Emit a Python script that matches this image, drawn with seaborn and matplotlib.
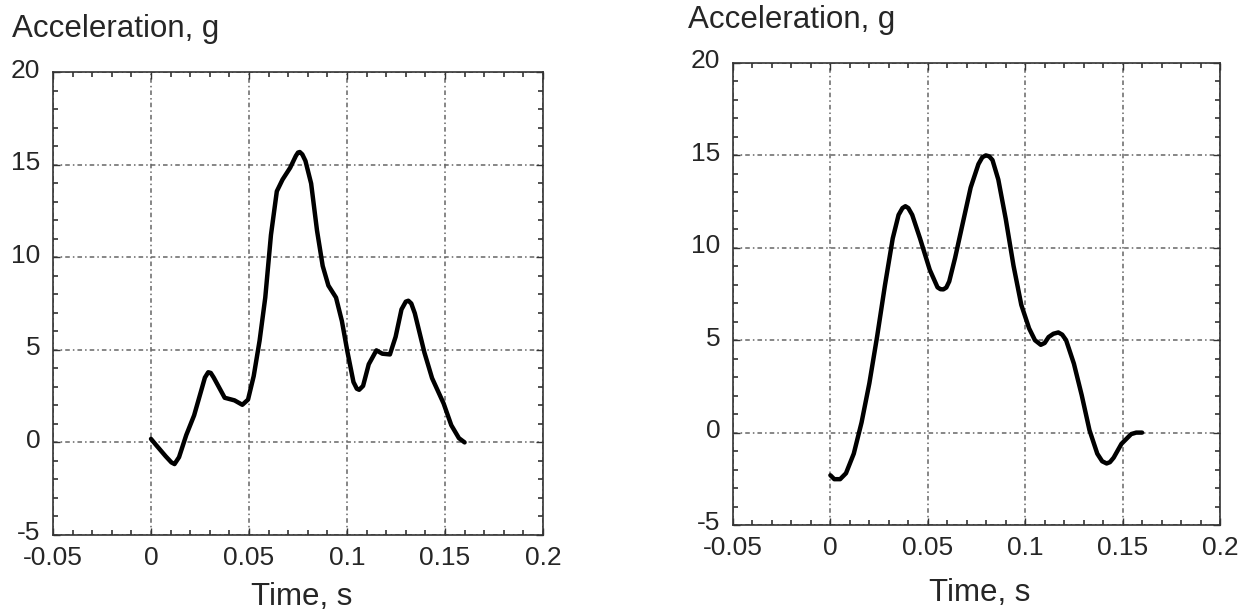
import matplotlib
matplotlib.use("Agg")
import matplotlib.pyplot as plt
import matplotlib.transforms as mtransforms
import seaborn as sns
import pandas as pd
from matplotlib.ticker import MultipleLocator

# Left chart data
t_left = [0.0, 0.0025, 0.0075, 0.0104, 0.012, 0.0143, 0.018, 0.022, 0.026, 0.0275,
          0.0292, 0.0305, 0.032, 0.0376,
          0.0426, 0.0466, 0.0495, 0.0524, 0.0554, 0.0583, 0.0612, 0.0642, 0.0671,
          0.0710, 0.0739, 0.0750, 0.0759, 0.0772, 0.0788, 0.0817, 0.0847, 0.0876,
          0.0905, 0.0944,
          0.0974, 0.1003, 0.1033, 0.1050, 0.1062, 0.1082, 0.1111, 0.1150, 0.118, 0.1219,
          0.1248, 0.1278, 0.1300, 0.1313, 0.1328, 0.1346, 0.1395, 0.1434, 0.1493,
          0.1532, 0.1571, 0.160]
a_left = [0.19, -0.13, -0.75, -1.08, -1.17, -0.8, 0.4, 1.46, 2.94, 3.5,
          3.79, 3.75, 3.5, 2.41,
          2.27, 2.03, 2.31, 3.58, 5.49, 7.82, 11.2, 13.56, 14.19,
          14.83, 15.47, 15.65, 15.68, 15.55, 15.2, 13.98, 11.44, 9.53,
          8.47, 7.82,
          6.55, 4.85, 3.26, 2.9, 2.84, 3.05, 4.22, 4.97, 4.79, 4.75,
          5.70, 7.18, 7.6, 7.65, 7.5, 6.97, 4.85, 3.47, 2.10,
          0.93, 0.23, 0.0]

# Right chart data
t_right = [0.0, 0.002, 0.005, 0.008, 0.012, 0.016, 0.020, 0.024, 0.028, 0.032,
           0.035, 0.037, 0.0385, 0.040, 0.042, 0.046, 0.051, 0.055, 0.0565, 0.058,
           0.0595, 0.061, 0.064, 0.068,
           0.072, 0.076, 0.078, 0.0798, 0.0815, 0.0832, 0.0862, 0.090, 0.094, 0.098,
           0.102, 0.105, 0.108, 0.110, 0.112, 0.1145, 0.117, 0.119, 0.121, 0.125,
           0.129, 0.133, 0.137, 0.1395, 0.1418, 0.1435, 0.1454,
           0.1494, 0.1544, 0.157, 0.160]
a_right = [-2.31, -2.52, -2.52, -2.2, -1.14, 0.55, 2.67, 5.21, 7.97, 10.51,
           11.78, 12.15, 12.25, 12.15, 11.78, 10.51, 8.81, 7.86, 7.76, 7.75,
           7.85, 8.18, 9.45, 11.36,
           13.26, 14.53, 14.9, 15.0, 14.95, 14.75, 13.69, 11.57, 9.03, 6.91,
           5.64, 5.0, 4.75, 4.85, 5.17, 5.35, 5.42, 5.3, 5.0, 3.73,
           2.03, 0.13, -1.14, -1.55, -1.67, -1.6, -1.36,
           -0.61, -0.08, 0.0, 0.0]

x_ticks = [-0.05, 0, 0.05, 0.1, 0.15, 0.2]
x_ticklabels = ["-0.05", "0", "0.05", "0.1", "0.15", "0.2"]
y_ticks = [-5, 0, 5, 10, 15, 20]
y_ticklabels = ["-5", "0", "5", "10", "15", "20"]
y_title = "Acceleration, g"
x_title = "Time, s"

sns.set_style("white")
plt.rcParams['font.family'] = ['Liberation Sans', 'DejaVu Sans']

fig = plt.figure(figsize=(12.5, 6.15), dpi=100)
W, H = 1250, 615

def make_axes(l, r, top, bottom):
    return fig.add_axes([l / W, (H - bottom) / H, (r - l) / W, (bottom - top) / H])

ax1 = make_axes(53, 543, 72, 535)
ax2 = make_axes(733, 1220, 63, 525)

for ax, t, a in [(ax1, t_left, a_left), (ax2, t_right, a_right)]:
    df = pd.DataFrame({"t": t, "a": a})
    sns.lineplot(data=df, x="t", y="a", ax=ax, color="black", linewidth=3.2,
                 sort=False, estimator=None)
    for ln in ax.get_lines():
        ln.set_solid_joinstyle("round")
        ln.set_solid_capstyle("round")
    ax.set_xlim(-0.05, 0.2)
    ax.set_ylim(-5, 20)
    ax.set_xticks(x_ticks)
    ax.set_xticklabels(x_ticklabels)
    ax.set_yticks(y_ticks)
    ax.set_yticklabels(y_ticklabels)
    ax.xaxis.set_minor_locator(MultipleLocator(0.01))
    ax.yaxis.set_minor_locator(MultipleLocator(1))
    ax.tick_params(which="both", direction="in", top=True, right=True,
                   bottom=True, left=True, color="#333333")
    ax.tick_params(which="major", length=5, width=1, labelsize=19)
    ax.tick_params(which="minor", length=3.5, width=1.2)
    ax.tick_params(axis="x", which="major", pad=8)
    ax.tick_params(axis="y", which="major", pad=9)
    offset = mtransforms.ScaledTranslation(0, 4 / 100, fig.dpi_scale_trans)
    for lab in ax.get_yticklabels():
        lab.set_transform(lab.get_transform() + offset)
    ax.grid(True, which="major", color="#666666", linewidth=1.1,
            linestyle=(0, (3, 2, 1, 2)))
    ax.set_xlabel("")
    ax.set_ylabel("")
    for s in ax.spines.values():
        s.set_visible(True)
        s.set_color("#333333")
        s.set_linewidth(1.2)

fig.text(12 / W, (H - 37) / H, y_title, fontsize=22.5, ha="left", va="baseline")
fig.text(688 / W, (H - 28) / H, y_title, fontsize=22.5, ha="left", va="baseline")
fig.text(302 / W, (H - 605) / H, x_title, fontsize=22.5, ha="center", va="baseline")
fig.text(980 / W, (H - 601) / H, x_title, fontsize=22.5, ha="center", va="baseline")

fig.savefig("out.png", dpi=100, facecolor="white")
